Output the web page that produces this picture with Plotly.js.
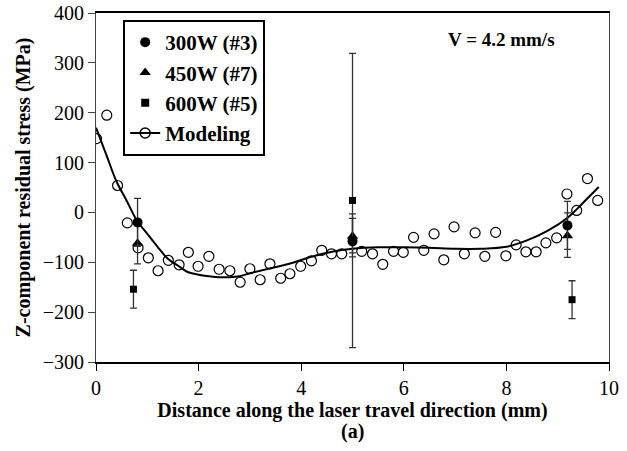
<!DOCTYPE html>
<html>
<head>
<meta charset="utf-8">
<script src="https://cdn.plot.ly/plotly-3.0.1.min.js"></script>
<style>html,body{margin:0;padding:0;background:#fff;}#chart{width:627px;height:451px;}</style>
</head>
<body>
<div id="chart"></div>
<script>
// Modeling (open circles)
const modelX = [0.01,0.21,0.42,0.61,0.82,1.02,1.21,1.41,1.62,1.80,1.99,2.20,2.40,2.61,2.81,3.00,3.20,3.39,3.60,3.78,
                3.99,4.20,4.40,4.59,4.79,5.18,5.39,5.59,5.80,5.99,6.19,6.39,6.59,6.78,6.98,7.18,7.39,
                7.58,7.79,7.99,8.19,8.38,8.58,8.77,8.98,9.18,9.37,9.58,9.78];
const modelY = [148,195,54,-21,-71,-91,-117,-96,-105,-80,-108,-88,-114,-117,-140,-113,-135,-103,-132,-123,
                -108,-97,-76,-83,-83,-78,-83,-104,-78,-80,-50,-76,-43,-95,-29,-83,-41,
                -88,-40,-87,-65,-79,-79,-61,-51,37,4,68,24];
// Modeling fitted curve
const curveX = [0,0.2,0.4,0.6,0.8,1.0,1.2,1.4,1.6,1.8,2.0,2.2,2.4,2.6,2.8,3.0,3.4,3.8,4.2,4.6,5.0,5.5,6.0,6.5,7.0,7.5,8.0,8.4,8.8,9.2,9.5,9.8];
const curveY = [170,116,62,23,-17,-43,-69,-93,-107,-120,-125,-128,-130,-130,-128,-122,-112,-102,-89,-79,-73,-70,-70,-71,-73,-73,-69,-56,-37,-10,20,51];
// Experiments
const w300X = [0.81,5.0,9.19];
const w300Y = [-20,-58,-26];
const w300ErrPlus = [48,46,48];
const w300ErrMinus = [48,23,48];
const w450X = [0.81,5.0,9.19];
const w450Y = [-62,-48,-47];
const w450ErrPlus = [41,45,46];
const w450ErrMinus = [41,41,43];
const w600X = [0.73,5.0,9.28];
const w600Y = [-154,24,-175];
const w600Err = [38,295,38];

const serif = '"Liberation Serif", "Times New Roman", serif';
const errStyle = (plus, minus) => ({type:'data', array:plus, arrayminus:minus, symmetric:false, visible:true, color:'#333', thickness:1.3, width:3.5});

const traces = [
  {x:curveX, y:curveY, mode:'lines', line:{color:'#000', width:2, shape:'spline'}, showlegend:false, hoverinfo:'skip'},
  {x:modelX, y:modelY, mode:'markers', marker:{symbol:'circle-open', size:10, color:'#000', line:{width:1.2}}, showlegend:false},
  {x:w600X, y:w600Y, mode:'markers', name:'600W (#5)', marker:{symbol:'square', size:7, color:'#000'}, error_y:errStyle(w600Err, w600Err), showlegend:false},
  {x:w450X, y:w450Y, mode:'markers', name:'450W (#7)', marker:{symbol:'triangle-up', size:10, color:'#000'}, error_y:errStyle(w450ErrPlus, w450ErrMinus), showlegend:false},
  {x:w300X, y:w300Y, mode:'markers', name:'300W (#3)', marker:{symbol:'circle', size:10, color:'#000'}, error_y:errStyle(w300ErrPlus, w300ErrMinus), showlegend:false},
  // legend entries
  {x:[null], y:[null], mode:'markers', name:'300W (#3)', marker:{symbol:'circle', size:10, color:'#000'}},
  {x:[null], y:[null], mode:'markers', name:'450W (#7)', marker:{symbol:'triangle-up', size:10, color:'#000'}},
  {x:[null], y:[null], mode:'markers', name:'600W (#5)', marker:{symbol:'square', size:8, color:'#000'}},
  {x:[null], y:[null], mode:'lines+markers', name:'Modeling', line:{color:'#000', width:2}, marker:{symbol:'circle-open', size:10, color:'#000', line:{width:1.5}}}
];

const layout = {
  width:627, height:451,
  margin:{l:96, r:18, t:13, b:89},
  paper_bgcolor:'#fff', plot_bgcolor:'#fff',
  font:{family:serif, color:'#000', size:20},
  showlegend:true,
  legend:{x:0.053, y:0.98, xanchor:'left', yanchor:'top', bordercolor:'#000', borderwidth:2, bgcolor:'#fff',
          font:{family:serif, size:21, weight:'bold'}, tracegroupgap:0, traceorder:'normal'},
  xaxis:{range:[0,10], dtick:2, ticks:'outside', ticklen:7, tickcolor:'#000', showgrid:false, zeroline:false,
         showline:true, linecolor:'#000', linewidth:2, mirror:true,
         tickfont:{family:serif, size:20},
         title:{text:'Distance along the laser travel direction (mm)', font:{family:serif, size:20, weight:'bold'}, standoff:2}},
  yaxis:{range:[-300,400], dtick:100, ticks:'outside', ticklen:7, tickcolor:'#444', showgrid:false, zeroline:false,
         showline:true, linecolor:'#444', linewidth:1, mirror:true,
         tickfont:{family:serif, size:20},
         title:{text:'Z-component residual stress (MPa)', font:{family:serif, size:20, weight:'bold'}, standoff:6}},
  annotations:[
    {text:'V = 4.2 mm/s', xref:'paper', yref:'paper', x:0.79, y:0.924, xanchor:'center', yanchor:'middle', showarrow:false,
     font:{family:serif, size:19, weight:'bold'}},
    {text:'(a)', xref:'paper', yref:'paper', x:0.5, y:-0.2, xanchor:'center', yanchor:'middle', showarrow:false,
     font:{family:serif, size:20, weight:'bold'}}
  ]
};

Plotly.newPlot('chart', traces, layout, {displayModeBar:false, staticPlot:true});
</script>
</body>
</html>
